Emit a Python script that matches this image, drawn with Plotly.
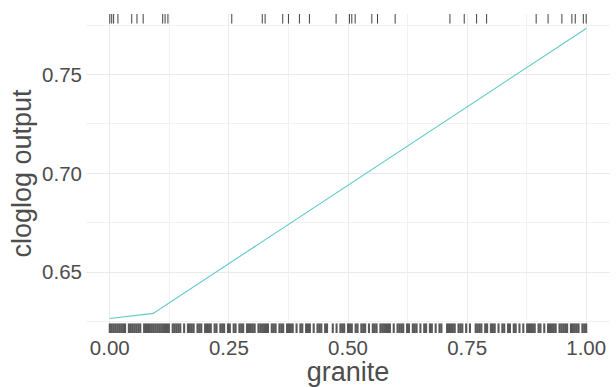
import plotly.graph_objects as go

# response curve (granite vs cloglog output)
curve_x = [0.0, 0.091, 1.0]
curve_y = [0.6266, 0.6292, 0.7733]

# presence points (top rug)
presence_x = [0.0, 0.004, 0.008, 0.017, 0.046, 0.057, 0.070, 0.111, 0.116, 0.122,
              0.256, 0.320, 0.326, 0.363, 0.375, 0.398, 0.419, 0.475, 0.503, 0.508,
              0.515, 0.550, 0.562, 0.599, 0.714, 0.744, 0.770, 0.791, 0.895, 0.920,
              0.949, 0.970, 0.977, 0.994, 1.0]

# background points (bottom rug)
background_x = [
    0.000, 0.004, 0.008, 0.012, 0.016, 0.020, 0.024, 0.028, 0.032, 0.040, 0.044, 0.048,
    0.052, 0.056, 0.060, 0.064, 0.072, 0.076, 0.080, 0.084, 0.088, 0.092, 0.096, 0.100,
    0.104, 0.108, 0.112, 0.116, 0.120, 0.124, 0.132, 0.136, 0.140, 0.144, 0.148, 0.156,
    0.164, 0.168, 0.172, 0.176, 0.184, 0.188, 0.192, 0.200, 0.204, 0.208, 0.212, 0.220,
    0.224, 0.232, 0.236, 0.240, 0.248,
    0.252, 0.260, 0.264, 0.272, 0.276, 0.280, 0.288, 0.292, 0.296, 0.300, 0.304, 0.312,
    0.316, 0.320, 0.324, 0.328, 0.332, 0.340, 0.344, 0.348, 0.356, 0.360, 0.364, 0.372,
    0.376, 0.380, 0.384, 0.392, 0.400, 0.404, 0.412, 0.416, 0.420, 0.428, 0.436, 0.440,
    0.444, 0.452, 0.456, 0.468, 0.476, 0.484, 0.488, 0.492, 0.500,
    0.504, 0.508, 0.516, 0.520, 0.528, 0.532, 0.536, 0.544, 0.552, 0.556, 0.560, 0.568,
    0.572, 0.576, 0.580, 0.584, 0.588, 0.596, 0.604, 0.608, 0.612, 0.616, 0.624, 0.628,
    0.636, 0.640, 0.644, 0.652, 0.660, 0.664, 0.672, 0.676, 0.684, 0.692, 0.696, 0.708,
    0.712, 0.716, 0.720, 0.724, 0.732, 0.736, 0.740, 0.748, 0.756,
    0.768, 0.772, 0.776, 0.780, 0.788, 0.792, 0.800, 0.804, 0.808, 0.816, 0.824, 0.828,
    0.836, 0.840, 0.848, 0.852, 0.860, 0.868, 0.876, 0.880, 0.884, 0.888, 0.892, 0.900,
    0.904, 0.912, 0.920, 0.924, 0.928, 0.932, 0.936, 0.944, 0.948, 0.952, 0.956, 0.960,
    0.968, 0.972, 0.976, 0.980, 0.984, 0.992, 0.996, 1.000]

x_ticks = [0.0, 0.25, 0.5, 0.75, 1.0]
x_ticklabels = ["0.00", "0.25", "0.50", "0.75", "1.00"]
y_ticks = [0.65, 0.70, 0.75]
y_ticklabels = ["0.65", "0.70", "0.75"]

RUG_LEN = 0.03


def rug_segments(xs, y0, y1):
    sx, sy = [], []
    for v in xs:
        sx += [v, v, None]
        sy += [y0, y1, None]
    return sx, sy


fig = go.Figure()

tx, ty = rug_segments(presence_x, 1 - RUG_LEN, 1.0)
fig.add_trace(go.Scatter(x=tx, y=ty, mode="lines", yaxis="y2",
                         line=dict(color="rgba(30,30,30,0.85)", width=1),
                         hoverinfo="skip", showlegend=False))
bx, by = rug_segments(background_x, 0.0, RUG_LEN)
fig.add_trace(go.Scatter(x=bx, y=by, mode="lines", yaxis="y2",
                         line=dict(color="rgba(60,60,60,0.85)", width=2.1),
                         hoverinfo="skip", showlegend=False))

fig.add_trace(go.Scatter(x=curve_x, y=curve_y, mode="lines",
                         line=dict(color="#62C9C9", width=1.1),
                         showlegend=False))

font_family = "Liberation Sans, Arial, sans-serif"
fig.update_layout(
    width=616, height=387,
    margin=dict(l=86, r=6, t=14, b=54),
    paper_bgcolor="white", plot_bgcolor="white",
    font=dict(family=font_family, color="#4D4D4D"),
    xaxis=dict(range=[-0.05, 1.05], tickvals=x_ticks, ticktext=x_ticklabels,
               showgrid=True, gridcolor="#EBEBEB", gridwidth=1.1,
               minor=dict(tickvals=[0.125, 0.375, 0.625, 0.875], showgrid=True,
                          gridcolor="#F2F2F2", gridwidth=0.6),
               zeroline=False, showline=False, ticks="",
               tickfont=dict(size=20.5, color="#4D4D4D"),
               title=dict(text="granite", font=dict(size=27, color="#4D4D4D"), standoff=2)),
    yaxis=dict(range=[0.6193, 0.7806], tickvals=y_ticks, ticktext=y_ticklabels,
               showgrid=True, gridcolor="#EBEBEB", gridwidth=1.1,
               minor=dict(tickvals=[0.625, 0.675, 0.725, 0.775], showgrid=True,
                          gridcolor="#F2F2F2", gridwidth=0.6),
               zeroline=False, showline=False, ticks="",
               ticklabelstandoff=3,
               tickfont=dict(size=20.5, color="#4D4D4D"),
               title=dict(text="cloglog output", font=dict(size=27, color="#4D4D4D"), standoff=2)),
    yaxis2=dict(range=[0, 1], overlaying="y", visible=False, fixedrange=True),
)

fig.write_html("out.html")
